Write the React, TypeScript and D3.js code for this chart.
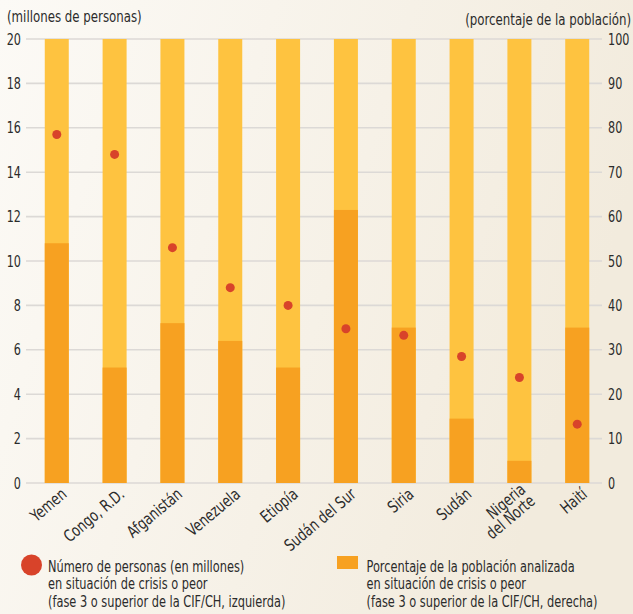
import * as d3 from "d3";

const countries = [
  "Yemen",
  "Congo, R.D.",
  "Afganistán",
  "Venezuela",
  "Etiopía",
  "Sudán del Sur",
  "Siria",
  "Sudán",
  "Nigeria\ndel Norte",
  "Haití",
];
// millions of people in crisis or worse (left axis)
const people = [15.7, 14.8, 10.6, 8.8, 8.0, 6.95, 6.65, 5.7, 4.75, 2.65];
// percent of analysed population (right axis)
const percent = [54, 26, 36, 32, 26, 61.5, 35, 14.5, 5, 35];

const leftTicks = [0, 2, 4, 6, 8, 10, 12, 14, 16, 18, 20];
const rightTicks = [0, 10, 20, 30, 40, 50, 60, 70, 80, 90, 100];

const legendPeople = [
  "Número de personas (en millones)",
  "en situación de crisis o peor",
  "(fase 3 o superior de la CIF/CH, izquierda)",
];
const legendPercent = [
  "Porcentaje de la población analizada",
  "en situación de crisis o peor",
  "(fase 3 o superior de la CIF/CH, derecha)",
];

const W = 633;
const H = 614;
const FONT = "'DejaVu Sans Condensed', 'DejaVu Sans', sans-serif";
const TEXT = "#2b2b2b";
const SX = 0.82; // horizontal squeeze to mimic a condensed face

export default function App() {
  const top = 39;
  const bottom = 483;
  const gridLeft = 26;
  const gridRight = 602;

  const x = d3.scaleBand<string>().domain(countries).range([28, 606]).paddingInner(0.585).paddingOuter(0.29);
  const yL = d3.scaleLinear().domain([0, 20]).range([bottom, top]);
  const yR = d3.scaleLinear().domain([0, 100]).range([bottom, top]);
  const bw = x.bandwidth();

  return (
    <svg
      width={W}
      height={H}
      style={{ position: "absolute", left: 0, top: 0, display: "block" }}
      fontFamily={FONT}
    >
      <defs>
        <linearGradient id="bg" x1="0" y1="0" x2="1" y2="0.3">
          <stop offset="0" stopColor="#fcfaf6" />
          <stop offset="1" stopColor="#f2ebdd" />
        </linearGradient>
      </defs>
      <rect width={W} height={H} fill="url(#bg)" />

      {/* axis titles */}
      <text transform={`translate(7,22) scale(${SX},1)`} fontSize={16} fill={TEXT}>
        (millones de personas)
      </text>
      <text transform={`translate(631,25) scale(${SX},1)`} fontSize={16} fill={TEXT} textAnchor="end">
        (porcentaje de la población)
      </text>

      {/* grid */}
      {leftTicks.map((t) => (
        <line
          key={"g" + t}
          x1={gridLeft}
          x2={gridRight}
          y1={yL(t)}
          y2={yL(t)}
          stroke="#dcd9d6"
          strokeWidth={1.6}
        />
      ))}

      {/* left ticks */}
      {leftTicks.map((t) => (
        <text
          key={"l" + t}
          transform={`translate(21,${yL(t) + 5.5}) scale(0.78,1)`}
          fontSize={16}
          fill={TEXT}
          textAnchor="end"
        >
          {t}
        </text>
      ))}
      {/* right ticks */}
      {rightTicks.map((t) => (
        <text
          key={"r" + t}
          transform={`translate(608,${yR(t) + 5.5}) scale(0.78,1)`}
          fontSize={16}
          fill={TEXT}
        >
          {t}
        </text>
      ))}

      {/* bars */}
      {countries.map((c, i) => (
        <g key={"b" + c}>
          <rect x={x(c)} y={yR(100)} width={bw} height={yR(0) - yR(100)} fill="#fec340" />
          <rect x={x(c)} y={yR(percent[i])} width={bw} height={yR(0) - yR(percent[i])} fill="#f7a121" />
        </g>
      ))}

      {/* dots */}
      {countries.map((c, i) => (
        <circle key={"d" + c} cx={(x(c) ?? 0) + bw / 2} cy={yL(people[i])} r={4.5} fill="#d8432a" />
      ))}

      {/* category labels */}
      {countries.map((c) => {
        const lines = c.split("\n");
        const cx = (x(c) ?? 0) + bw / 2 + 11;
        return (
          <text
            key={"c" + c}
            transform={`translate(${cx},${bottom + 13}) rotate(-40) scale(0.84,1)`}
            fontSize={16.5}
            fill={TEXT}
            textAnchor="end"
          >
            {lines.map((ln, j) => (
              <tspan key={j} x={0} dy={j === 0 ? (lines.length > 1 ? -6 : 0) : 15}>
                {ln}
              </tspan>
            ))}
          </text>
        );
      })}

      {/* legend */}
      <circle cx={31.5} cy={565} r={10.5} fill="#d8432a" />
      <text transform={`translate(48,0) scale(0.79,1)`} fontSize={16} fill={TEXT}>
        {legendPeople.map((ln, j) => (
          <tspan key={j} x={0} y={572 + j * 17.5}>
            {ln}
          </tspan>
        ))}
      </text>
      <rect x={337} y={556} width={21} height={13} fill="#f7a121" />
      <text transform={`translate(366.5,0) scale(0.79,1)`} fontSize={16} fill={TEXT}>
        {legendPercent.map((ln, j) => (
          <tspan key={j} x={0} y={572 + j * 17.5}>
            {ln}
          </tspan>
        ))}
      </text>
    </svg>
  );
}
